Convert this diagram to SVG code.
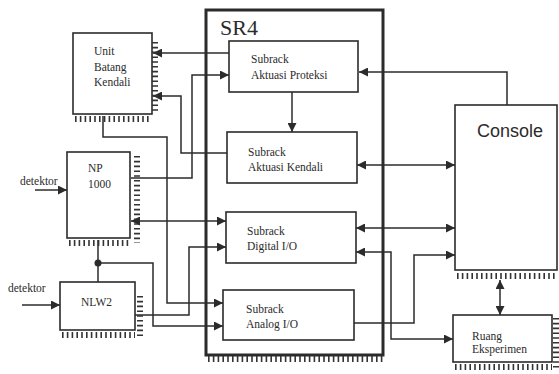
<svg xmlns="http://www.w3.org/2000/svg" width="559" height="374" viewBox="0 0 559 374">
<style>
.box{fill:#fff;stroke:#2b2b2b;stroke-width:1.6}
.sr4{fill:none;stroke:#2b2b2b;stroke-width:3}
.t{font-family:'Liberation Serif','DejaVu Serif','Times New Roman',serif;font-size:11.5px;fill:#2b2b2b}
.big{font-family:'Liberation Serif','DejaVu Serif','Times New Roman',serif;font-size:22px;fill:#2b2b2b}
.cons{font-family:'Liberation Sans',Arial,sans-serif;font-size:18px;fill:#2b2b2b}
.tick{stroke:#333;stroke-width:6;stroke-dasharray:1.6 3.2;fill:none}
.c{fill:none;stroke:#2b2b2b;stroke-width:1.5}
.e{marker-end:url(#ah)}
.b{marker-start:url(#ah);marker-end:url(#ah)}
</style>
<defs>
<marker id="ah" viewBox="0 0 10 10" refX="10" refY="5" markerWidth="11" markerHeight="9" markerUnits="userSpaceOnUse" orient="auto-start-reverse">
<path d="M0,0 L10,5 L0,10 z" fill="#2b2b2b"/>
</marker>
</defs>
<rect width="559" height="374" fill="#fff"/>

<g id="sr4">
<rect class="sr4" x="206" y="10" width="177" height="345"/>
<line class="tick" x1="208" y1="359" x2="383" y2="359"/>
<text class="big" x="220" y="35">SR4</text>
</g>

<g id="connectors">
<path class="c e" d="M229,53 H153"/>
<path class="c e" d="M131,178 H192 V75 H229"/>
<path class="c e" d="M227,153 H181 V96 H153"/>
<path class="c e" d="M103,116 V137 H167 V303 H223"/>
<path class="c b" d="M131,221 H226"/>
<path class="c e" d="M135,315 H189 V247 H226"/>
<path class="c" d="M98,240 V282"/>
<circle cx="98" cy="263" r="3.5" fill="#2b2b2b"/>
<path class="c e" d="M98,263 H153 V326 H223"/>
<path class="c e" d="M292,92 V132"/>
<path class="c e" d="M507,105 V72 H359"/>
<path class="c b" d="M357,165 H455"/>
<path class="c b" d="M356,228 H455"/>
<path class="c b" d="M356,252 H391 V339 H453"/>
<path class="c e" d="M354,323 H414 V255 H455"/>
<path class="c b" d="M500,280 V315"/>
<path class="c e" d="M35,190 H67"/>
<path class="c e" d="M22,305 H60"/>
</g>

<g id="unit-batang-kendali">
<rect class="box" x="73" y="33" width="79" height="81"/>
<line class="tick" x1="75" y1="119" x2="151" y2="119"/>
<line class="tick" x1="155" y1="42" x2="155" y2="114"/>
<text class="t" x="94" y="55">Unit</text>
<text class="t" x="94" y="71">Batang</text>
<text class="t" x="94" y="86">Kendali</text>
</g>

<g id="np1000">
<rect class="box" x="67" y="152" width="63" height="86"/>
<line class="tick" x1="69" y1="243" x2="130" y2="243"/>
<line class="tick" x1="137" y1="156" x2="137" y2="243"/>
<text class="t" x="88" y="172">NP</text>
<text class="t" x="88" y="188">1000</text>
<text class="t" x="20" y="185">detektor</text>
</g>

<g id="nlw2">
<rect class="box" x="60" y="282" width="75" height="48"/>
<line class="tick" x1="62" y1="335" x2="135" y2="335"/>
<line class="tick" x1="140" y1="296" x2="140" y2="338"/>
<text class="t" x="81" y="306">NLW2</text>
<text class="t" x="8" y="292">detektor</text>
</g>

<g id="subrack-aktuasi-proteksi">
<rect class="box" x="229" y="41" width="129" height="51"/>
<text class="t" x="251" y="63">Subrack</text>
<text class="t" x="251" y="79">Aktuasi Proteksi</text>
</g>

<g id="subrack-aktuasi-kendali">
<rect class="box" x="227" y="132" width="130" height="51"/>
<text class="t" x="248" y="156">Subrack</text>
<text class="t" x="248" y="171">Aktuasi Kendali</text>
</g>

<g id="subrack-digital-io">
<rect class="box" x="226" y="212" width="130" height="51"/>
<text class="t" x="247" y="235">Subrack</text>
<text class="t" x="247" y="250">Digital I/O</text>
</g>

<g id="subrack-analog-io">
<rect class="box" x="223" y="290" width="131" height="50"/>
<text class="t" x="246" y="313">Subrack</text>
<text class="t" x="246" y="328">Analog I/O</text>
</g>

<g id="console">
<rect class="box" x="455" y="105" width="102" height="165"/>
<line class="tick" x1="457" y1="276" x2="557" y2="276"/>
<text class="cons" x="477" y="137">Console</text>
</g>

<g id="ruang-eksperimen">
<rect class="box" x="453" y="315" width="99" height="47"/>
<line class="tick" x1="455" y1="367" x2="552" y2="367"/>
<line class="tick" x1="556" y1="318" x2="556" y2="370"/>
<text class="t" x="472" y="340">Ruang</text>
<text class="t" x="472" y="353">Eksperimen</text>
</g>
</svg>
